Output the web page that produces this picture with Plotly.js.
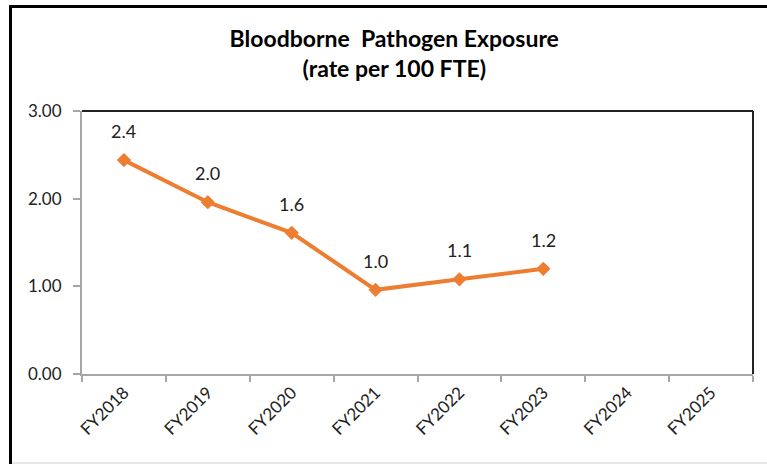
<!DOCTYPE html>
<html>
<head>
<meta charset="utf-8">
<script src="https://cdn.plot.ly/plotly-3.0.1.min.js"></script>
<style>
  body { margin: 0; background: #fff; }
  #wrap { position: relative; width: 767px; height: 464px; }
  #plot1 { width: 767px; height: 464px; }
  .edge { position: absolute; pointer-events: none; }
</style>
</head>
<body>
<div id="wrap">
  <div id="plot1"></div>
  <div class="edge" style="left:9px; top:5px; width:3px; height:459px; background:#000;"></div>
  <div class="edge" style="left:9px; top:5px; width:758px; height:3px; background:#000;"></div>
  <div class="edge" style="left:12px; top:462px; width:755px; height:2px; background:#e6e6e6;"></div>
</div>
<script>
// fiscal years on the x axis
var years = ["FY2018", "FY2019", "FY2020", "FY2021", "FY2022", "FY2023", "FY2024", "FY2025"];
// rate per 100 FTE (FY2024 / FY2025 not reported yet)
var rates = [2.44, 1.96, 1.61, 0.96, 1.08, 1.20, null, null];
var yTicks = [0, 1, 2, 3];
var yTickText = ["0.00", "1.00", "2.00", "3.00"];

var orange = "#ED7D31";
var font = "Lato, 'Open Sans', sans-serif";

var trace = {
    x: years,
    y: rates,
    type: "scatter",
    mode: "lines+markers",
    line: {color: orange, width: 4},
    marker: {symbol: "diamond", size: 11, color: orange},
    hoverinfo: "skip",
    showlegend: false
};

// value labels sit above each point
var labels = [];
years.forEach((yr, i) => {
    if (rates[i] === null) { return; }
    labels.push({
        x: yr, y: rates[i],
        text: rates[i].toFixed(1),
        showarrow: false,
        yshift: 29,
        font: {family: font, size: 18, color: "#222"}
    });
});

const layout = {
    width: 767, height: 464,
    margin: {l: 82, r: 14, t: 111, b: 90},
    paper_bgcolor: "#fff",
    plot_bgcolor: "#fff",
    font: {family: font, size: 16, color: "#222"},
    title: {
        text: "<b>Bloodborne  Pathogen Exposure<br>(rate per 100 FTE)</b>",
        font: {family: font, size: 23, color: "#000"},
        xref: "container", x: 0.514, xanchor: "center",
        yref: "container", y: 0.898, yanchor: "middle"
    },
    xaxis: {
        type: "category",
        categoryorder: "array", categoryarray: years,
        range: [-0.5, 7.5],
        showgrid: false, zeroline: false,
        showline: true, linecolor: "#a6a6a6", linewidth: 2,
        ticks: "outside", tickson: "boundaries", ticklen: 6, tickcolor: "#a6a6a6", tickwidth: 2,
        tickangle: -45,
        tickfont: {family: font, size: 17, color: "#222"}
    },
    yaxis: {
        range: [0, 3],
        tickvals: yTicks, ticktext: yTickText,
        showgrid: false, zeroline: false,
        showline: true, linecolor: "#a6a6a6", linewidth: 2,
        ticks: "outside", ticklen: 7, tickcolor: "#a6a6a6", tickwidth: 2,
        ticklabelstandoff: 8,
        tickfont: {family: font, size: 17, color: "#222"}
    },
    shapes: [
        {type: "line", xref: "paper", yref: "paper", x0: 0, x1: 1, y0: 1, y1: 1, line: {color: "#222", width: 2}},
        {type: "line", xref: "paper", yref: "paper", x0: 1, x1: 1, y0: 0, y1: 1, line: {color: "#222", width: 2}}
    ],
    annotations: labels
};

Plotly.newPlot("plot1", [trace], layout, {displayModeBar: false, staticPlot: true});
</script>
</body>
</html>
